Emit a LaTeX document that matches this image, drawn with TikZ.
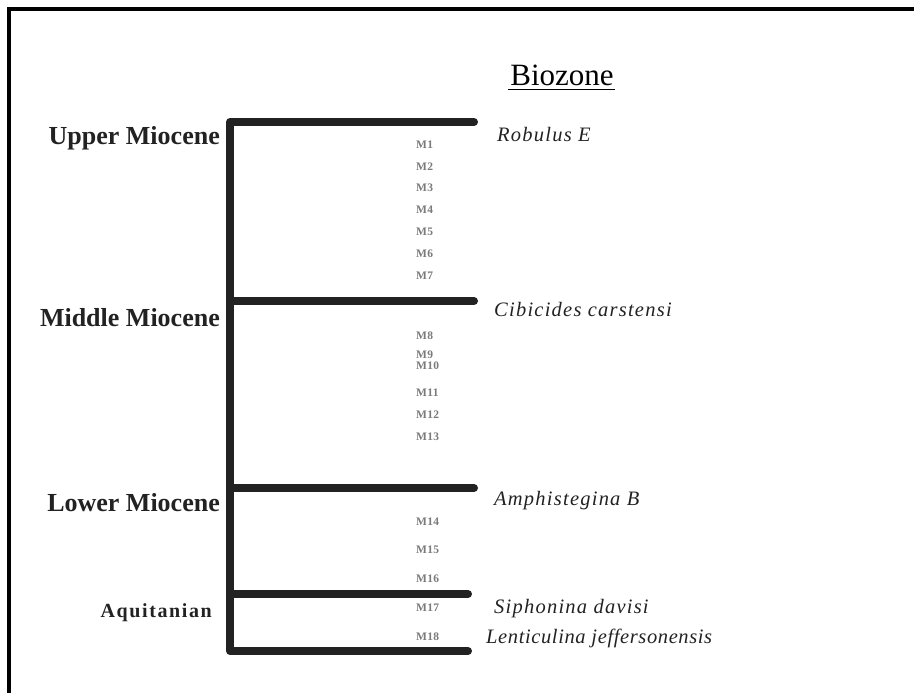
\documentclass[tikz,border=0pt]{standalone}
\usepackage{fontspec}
\setmainfont{Liberation Serif}
\definecolor{bardark}{HTML}{222222}
\definecolor{zonegray}{HTML}{7A7A7A}

\begin{document}
\begin{tikzpicture}[x=1pt,y=-1pt,
    bar/.style={line width=8pt, draw=bardark, line cap=round, line join=round},
    epoch/.style={anchor=base east, text=bardark, inner sep=0pt,
      font=\fontsize{26}{28}\selectfont\bfseries},
    taxon/.style={anchor=base west, text=bardark, inner sep=0pt,
      font=\fontsize{20.5}{22}\selectfont\itshape\addfontfeature{LetterSpace=6}},
    zone/.style={anchor=base west, text=zonegray, inner sep=0pt,
      font=\fontsize{11.5}{12}\selectfont\bfseries\addfontfeature{LetterSpace=3}}]
    \clip (0,0) rectangle (914,693);
    \useasboundingbox (0,0) rectangle (914,693);
    % frame, cut on the right and at the bottom
    \draw [line width=4pt] (9,700) -- (9,9) -- (920,9);
    % title
    \node (title) [anchor=base, inner sep=0pt, font=\fontsize{31}{33}\selectfont] at (562,85) {Biozone};
    \draw [line width=1.5pt] (title.base west) ++(-2,4.5) -- ++(107,0);
    % column
    \coordinate (top) at (230,122);
    \coordinate (bot) at (230,651);
    \draw [bar] (474,122) -- (top) -- (bot) -- (468,651);
    \draw [bar] (230,301) -- (474,301);
    \draw [bar] (230,488) -- (474,488);
    \draw [bar] (230,594) -- (468,594);
    % epochs
    \node (upper) [epoch] at (220,145) {Upper Miocene};
    \node (middle) [epoch] at (220,326) {Middle Miocene};
    \node (lower) [epoch] at (220,511) {Lower Miocene};
    \node (aquit) [epoch, font=\fontsize{20}{22}\selectfont\bfseries\addfontfeature{LetterSpace=8}] at (212,617) {Aquitanian};
    % marker taxa
    \node (robulus) [taxon] at (497,141) {Robulus E};
    \node (cibicides) [taxon] at (494,316) {Cibicides carstensi};
    \node (amphi) [taxon] at (494,505) {Amphistegina B};
    \node (siphonina) [taxon] at (494,613) {Siphonina davisi};
    \node (lenticulina) [taxon, font=\fontsize{20.5}{22}\selectfont\itshape\addfontfeature{LetterSpace=3}] at (486,643) {Lenticulina jeffersonensis};
    % zones
    \foreach \z/\y in {1/148.3,2/170,3/191.7,4/213.3,5/235.7,6/257.7,7/279,
                       8/339,9/358,10/369,11/396.7,12/418.3,13/440,
                       14/525,15/553.3,16/582.7,17/611.7,18/640.7}
      \node (m\z) [zone] at (416,\y) {M\z};
\end{tikzpicture}
\end{document}
